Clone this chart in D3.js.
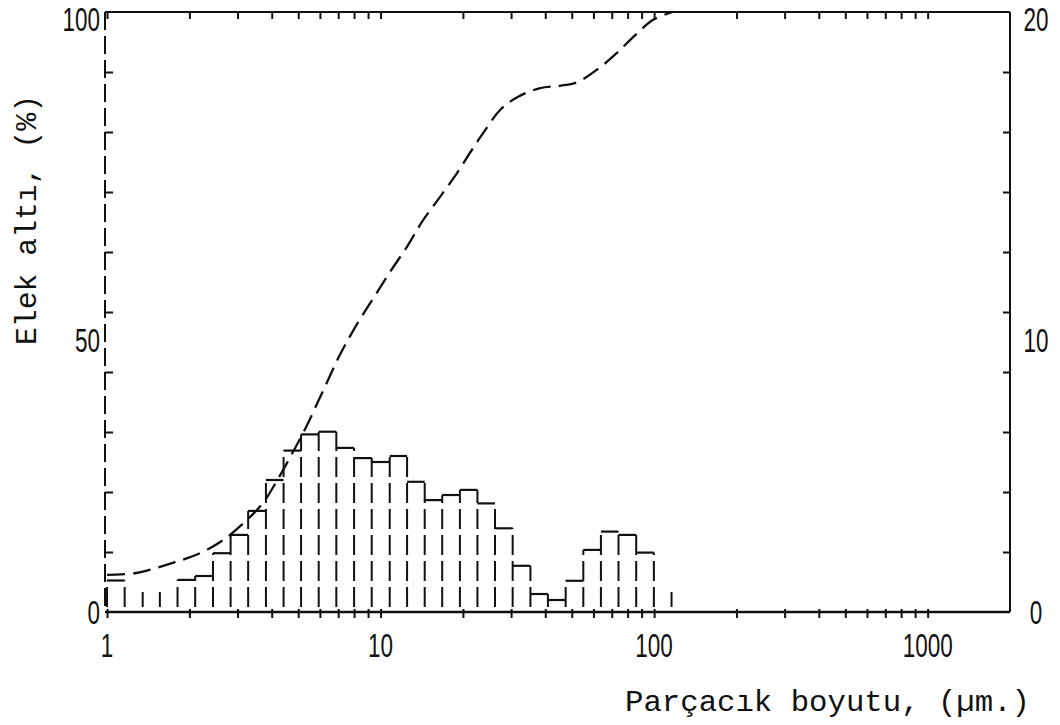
<!DOCTYPE html>
<html>
<head>
<meta charset="utf-8">
<script src="https://cdn.jsdelivr.net/npm/d3@7"></script>
<style>
  body { margin: 0; background: #fff; }
  svg { display: block; }
</style>
</head>
<body>
<svg id="chart" width="1060" height="725"></svg>
<script>
// histogram bin edges, µm (log spaced)
const binEdges = [1.00, 1.16, 1.35, 1.56, 1.81, 2.10, 2.44, 2.83, 3.28, 3.81, 4.42, 5.12, 5.94, 6.89, 8.00, 9.28,
  10.8, 12.5, 14.5, 16.8, 19.5, 22.6, 26.2, 30.4, 35.3, 40.9, 47.5, 55.1, 63.9, 74.1, 86.0, 99.8, 115.8];
// bar heights on the right hand scale (0-20)
const binHeights = [1.05, 0, 0, 0, 1.07, 1.2, 1.96, 2.57, 3.37, 4.4, 5.38, 5.92, 6.01, 5.47, 5.13, 5.0,
  5.2, 4.34, 3.73, 3.9, 4.07, 3.62, 2.79, 1.54, 0.6, 0.4, 1.04, 2.07, 2.68, 2.57, 1.98, 0];
// cumulative undersize curve (left scale, %)
const cumSize = [1.0, 1.28, 1.74, 2.19, 2.66, 3.24, 3.72, 4.17, 4.67, 5.30, 6.18, 7.11, 8.18, 9.41, 10.8, 12.5,
  14.3, 16.5, 19.0, 21.2, 23.7, 27.4, 31.6, 38.3, 45.3, 52.3, 63.5, 73.2, 83.8, 99.2, 117];
const cumPct = [6.2, 6.5, 8.2, 9.8, 12.0, 15.3, 18.2, 21.8, 25.8, 30.5, 37.0, 42.9, 47.9, 52.3, 56.6, 60.9,
  65.3, 69.2, 73.1, 76.5, 79.8, 83.7, 85.8, 87.3, 87.7, 88.3, 90.8, 93.2, 95.8, 98.7, 100];
const xTickLabels = [1, 10, 100, 1000];
const leftTickLabels = [0, 50, 100];
const rightTickLabels = [0, 10, 20];

const ink = '#111';
const plotL = 105, plotR = 1010, plotT = 12, plotB = 612;
// the printed side labels sit a little below their ticks (baseline offset, px)
const sideLabelDrop = [12, 40, 19];

const svg = d3.select('#chart');

const x = d3.scaleLog().domain([0.983, 2000]).range([plotL, plotR]);
const yL = d3.scaleLinear().domain([0, 100]).range([plotB, plotT]);
const yR = d3.scaleLinear().domain([0, 20]).range([plotB, plotT]);

const minorTicks = x.ticks().filter(v => v >= 1 && v <= 1000);

/// frame: top, right solid, bottom thick, left dashed
svg.append('line').attr('x1', plotL).attr('x2', plotR).attr('y1', plotT).attr('y2', plotT)
  .attr('stroke', ink).attr('stroke-width', 2);
svg.append('line').attr('x1', plotL).attr('x2', plotR).attr('y1', plotB).attr('y2', plotB)
  .attr('stroke', ink).attr('stroke-width', 2.6);
svg.append('line').attr('x1', plotR).attr('x2', plotR).attr('y1', plotT).attr('y2', plotB)
  .attr('stroke', ink).attr('stroke-width', 2);
svg.append('line').attr('x1', plotL).attr('x2', plotL).attr('y1', plotT).attr('y2', plotB)
  .attr('stroke', ink).attr('stroke-width', 2).attr('stroke-dasharray', '18 6');

// top ticks point down into the plot
const gTop = svg.append('g').attr('transform', `translate(0,${plotT})`)
  .call(d3.axisTop(x).tickValues(minorTicks).tickSize(-7).tickFormat(''));
// bottom ticks cross the axis line
const gBot = svg.append('g').attr('transform', `translate(0,${plotB - 3})`)
  .call(d3.axisBottom(x).tickValues(minorTicks).tickSize(9).tickFormat(''));
const gLeft = svg.append('g').attr('transform', `translate(${plotL},0)`)
  .call(d3.axisLeft(yL).tickValues(d3.range(10, 100, 10)).tickSize(-8).tickFormat(''));
const gRight = svg.append('g').attr('transform', `translate(${plotR},0)`)
  .call(d3.axisRight(yR).tickValues(d3.range(2, 20, 2)).tickSize(-7).tickFormat(''));

[gTop, gBot, gLeft, gRight].forEach(g => {
  g.select('.domain').remove();
  g.selectAll('.tick line').attr('stroke', ink).attr('stroke-width', 2);
});

/// tick labels: tall condensed digits
function numLabel(txt, px, py, anchor) {
  const s = String(txt);
  svg.append('text')
    .attr('x', px).attr('y', py)
    .attr('text-anchor', anchor)
    .attr('font-family', 'Liberation Sans, Arial, sans-serif')
    .attr('font-size', 34)
    .attr('textLength', s.length * 12.5)
    .attr('lengthAdjust', 'spacingAndGlyphs')
    .attr('fill', ink)
    .text(s);
}
xTickLabels.forEach(v => numLabel(v, x(v), 657, 'middle'));
leftTickLabels.forEach((v, i) => numLabel(v, 100, yL(v) + sideLabelDrop[i], 'end'));
rightTickLabels.forEach((v, i) => numLabel(v, 1036, yR(v) + sideLabelDrop[i], 'middle'));

/// histogram: solid tops, dashed sides
const bins = binHeights.map((h, i) => ({ x0: binEdges[i], x1: binEdges[i + 1], h }));

svg.append('g')
  .selectAll('line')
  .data(bins.filter(b => b.h > 0))
  .join('line')
  .attr('x1', d => x(d.x0)).attr('x2', d => x(d.x1))
  .attr('y1', d => yR(d.h)).attr('y2', d => yR(d.h))
  .attr('stroke', ink).attr('stroke-width', 2.2);

// each edge rises to the taller neighbour; a short stub where both are empty
const edges = binEdges.map((e, k) => ({
  e, h: Math.max(binHeights[k - 1] || 0, binHeights[k] || 0)
}));
svg.append('g')
  .selectAll('line')
  .data(edges)
  .join('line')
  .attr('x1', d => x(d.e)).attr('x2', d => x(d.e))
  .attr('y1', yR(0))
  .attr('y2', d => d.h > 0 ? yR(d.h) : yR(0) - 20)
  .attr('stroke', ink).attr('stroke-width', 2)
  .attr('stroke-dasharray', '20 6')
  .attr('stroke-dashoffset', 21);

/// cumulative curve
const cum = cumSize.map((s, i) => ({ s, p: cumPct[i] }));
svg.append('path')
  .datum(cum)
  .attr('fill', 'none')
  .attr('stroke', ink).attr('stroke-width', 2.3)
  .attr('stroke-dasharray', '18 8')
  .attr('d', d3.line().x(d => x(d.s)).y(d => yL(d.p)).curve(d3.curveCatmullRom.alpha(0.5)));

/// axis titles, typewriter style
svg.append('text')
  .attr('transform', 'translate(36,345) rotate(-90)')
  .attr('font-family', 'Liberation Mono, DejaVu Sans Mono, monospace')
  .attr('font-size', 29)
  .attr('textLength', 250).attr('lengthAdjust', 'spacingAndGlyphs')
  .attr('fill', ink)
  .text('Elek altı, (%)');

svg.append('text')
  .attr('x', 625).attr('y', 711)
  .attr('font-family', 'Liberation Mono, DejaVu Sans Mono, monospace')
  .attr('font-size', 30)
  .attr('textLength', 405).attr('lengthAdjust', 'spacingAndGlyphs')
  .attr('fill', ink)
  .text('Parçacık boyutu, (µm.)');
</script>
</body>
</html>
